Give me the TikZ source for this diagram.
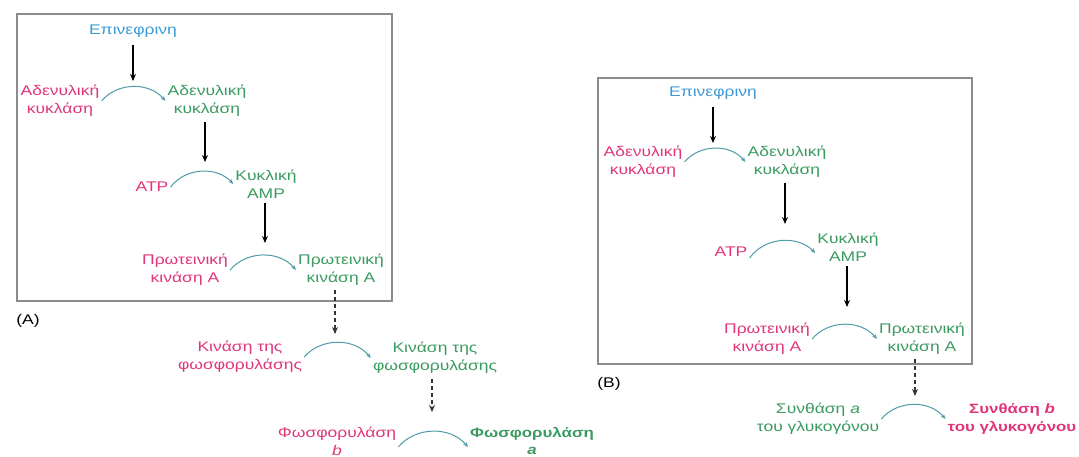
\documentclass[tikz,border=0pt]{standalone}
\usepackage{fontspec}
\setmainfont{Liberation Sans}[FakeStretch=1.25]
\usetikzlibrary{arrows.meta}
\definecolor{tred}{HTML}{E0357A}
\definecolor{tgreen}{HTML}{3A9A60}
\definecolor{tblue}{HTML}{3C9AD6}
\definecolor{tcurve}{HTML}{4E9AA6}
\definecolor{tbox}{HTML}{8C8C8C}
\tikzset{
  lbl/.style={inner sep=2pt, align=center, font=\fontsize{14}{18}\selectfont},
  redtxt/.style={lbl, text=tred},
  greentxt/.style={lbl, text=tgreen},
  bluetxt/.style={lbl, text=tblue},
  frame/.style={draw=tbox, line width=1.2pt},
  react/.style={draw=tcurve, line width=1pt, bend left=50, -{Stealth[length=5pt,width=4pt]}},
  solidarr/.style={draw=black, line width=1.5pt, -{Stealth[length=7pt,width=6pt]}},
  dasharr/.style={draw=black!80, line width=1.5pt, dashed, dash pattern=on 4pt off 3pt, -{Stealth[length=7pt,width=6pt]}},
}
\begin{document}
\begin{tikzpicture}[x=1pt,y=-1pt]
\useasboundingbox (0,0) rectangle (1079,456);
% ---------- (A) ----------
\draw[frame] (17,14) rectangle (392,301);
\node[lbl] (labA) at (28,321) {(A)};
\node[bluetxt] (epiA) at (133,31) {Επινεφρινη};
\node[redtxt] (r1A) at (60,101) {Αδενυλική\\κυκλάση};
\node[greentxt] (g1A) at (207,101) {Αδενυλική\\κυκλάση};
\node[redtxt] (atpA) at (152,187) {ATP};
\node[greentxt] (g2A) at (266,184) {Κυκλική\\AMP};
\node[redtxt] (r3A) at (185,270) {Πρωτεινική\\κινάση A};
\node[greentxt] (g3A) at (341,270) {Πρωτεινική\\κινάση A};
\node[redtxt] (r4A) at (240,357) {Κινάση της\\φωσφορυλάσης};
\node[greentxt] (g4A) at (435,358) {Κινάση της\\φωσφορυλάσης};
\node[redtxt] (r5A) at (337,441) {Φωσφορυλάση\\\textit{b}};
\node[greentxt, font=\fontsize{13.5}{17}\selectfont\bfseries] (g5A) at (532,441) {Φωσφορυλάση\\\textit{a}};

\coordinate (k1A) at (133,81);
\coordinate (k2A) at (205,162);
\coordinate (k3A) at (265,243);
\coordinate (k4A) at (335,334);
\coordinate (k5A) at (432,412);

\draw[react] (r1A.east) to (g1A.west);
\draw[react] (atpA.east) to (g2A.west);
\draw[react] (r3A.east) to (g3A.west);
\draw[react] (r4A.east) to (g4A.west);
\draw[react] ([yshift=-6pt]r5A.east) to ([yshift=-6pt]g5A.west);

\draw[solidarr] (epiA.south) ++(0,6) -- (k1A);
\draw[solidarr] (g1A.south -| k2A) ++(0,3) -- (k2A);
\draw[solidarr] (g2A.south -| k3A) ++(0,3) -- (k3A);
\draw[dasharr] (g3A.south -| k4A) ++(0,2) -- (k4A);
\draw[dasharr] (g4A.south -| k5A) ++(0,3) -- (k5A);

% ---------- (B) ----------
\draw[frame] (598,78) rectangle (972,364);
\node[lbl] (labB) at (609,384) {(B)};
\node[bluetxt] (epiB) at (713,93) {Επινεφρινη};
\node[redtxt] (r1B) at (643,162) {Αδενυλική\\κυκλάση};
\node[greentxt] (g1B) at (787,162) {Αδενυλική\\κυκλάση};
\node[redtxt] (atpB) at (731,252) {ATP};
\node[greentxt] (g2B) at (848,247) {Κυκλική\\AMP};
\node[redtxt] (r3B) at (767,339) {Πρωτεινική\\κινάση A};
\node[greentxt] (g3B) at (922,339) {Πρωτεινική\\κινάση A};
\node[greentxt] (r4B) at (818,419) {Συνθάση \textit{a}\\του γλυκογόνου};
\node[redtxt, font=\fontsize{13.5}{18}\selectfont\bfseries] (g4B) at (1012,419) {Συνθάση \textit{b}\\του γλυκογόνου};

\coordinate (k1B) at (713,143);
\coordinate (k2B) at (785,224);
\coordinate (k3B) at (847,307);
\coordinate (k4B) at (915,396);

\draw[react] (r1B.east) to (g1B.west);
\draw[react] ([yshift=-6pt]atpB.east) to ([yshift=-6pt]g2B.west);
\draw[react] (r3B.east) to (g3B.west);
\draw[react] (r4B.east) to (g4B.west);

\draw[solidarr] (epiB.south) ++(0,6) -- (k1B);
\draw[solidarr] (g1B.south -| k2B) ++(0,3) -- (k2B);
\draw[solidarr] (g2B.south -| k3B) ++(0,3) -- (k3B);
\draw[dasharr] (g3B.south -| k4B) ++(0,2) -- (k4B);
\end{tikzpicture}
\end{document}
